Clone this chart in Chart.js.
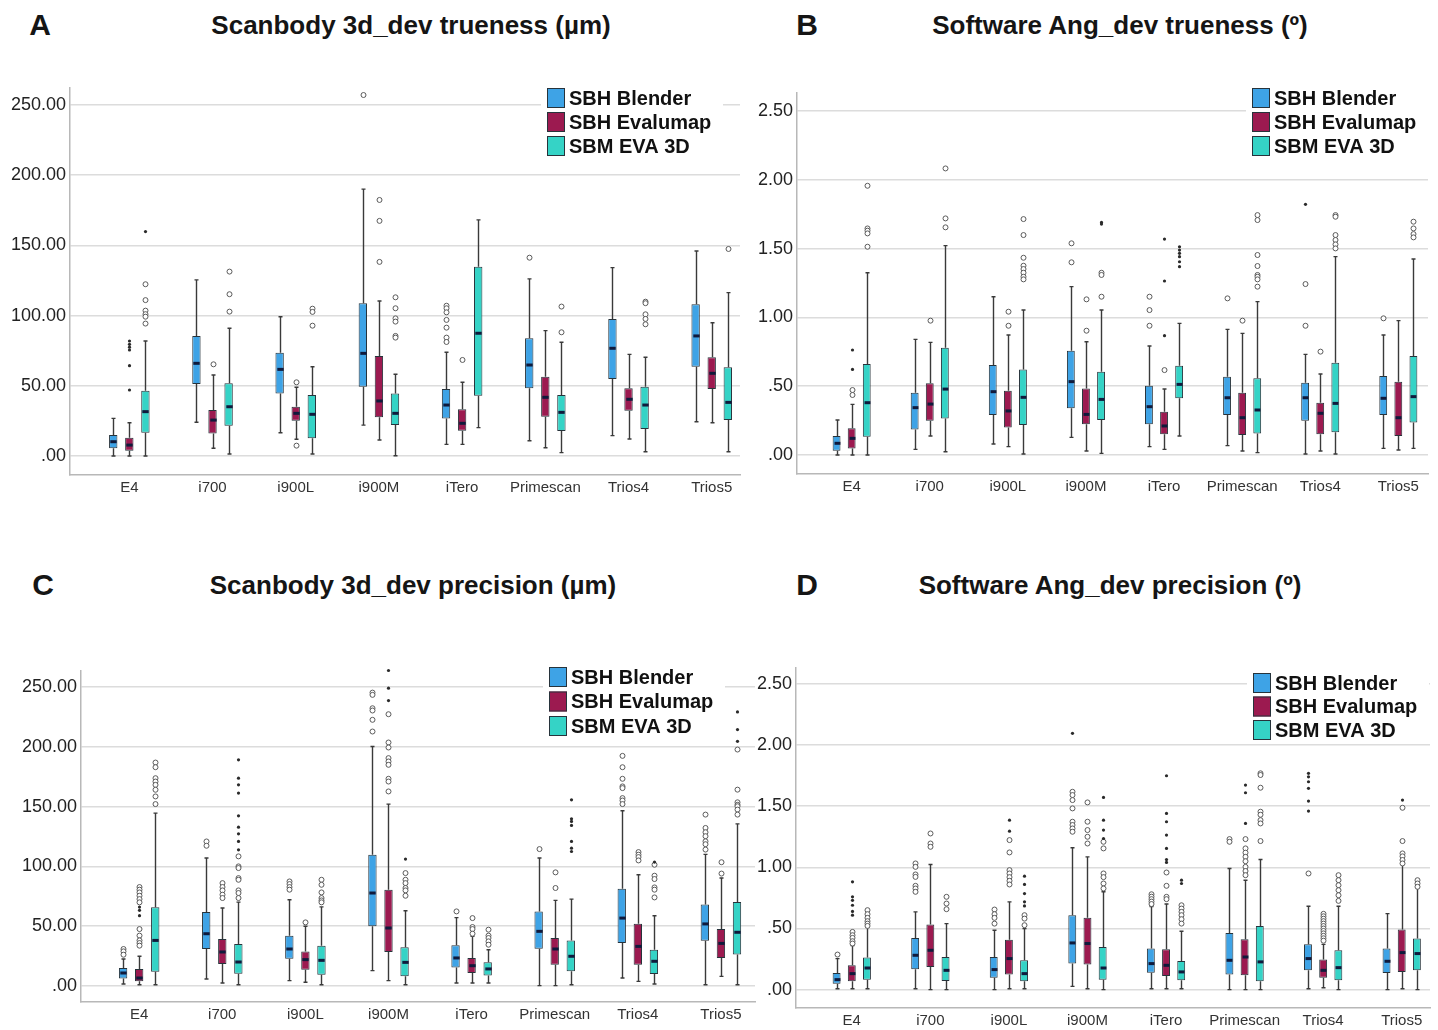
<!DOCTYPE html>
<html><head><meta charset="utf-8">
<script src="https://cdn.jsdelivr.net/npm/chart.js@4.4.0/dist/chart.umd.min.js"></script>
<style>
html,body{margin:0;padding:0;background:#fff;width:1438px;height:1030px;overflow:hidden;font-family:"Liberation Sans",Arial,sans-serif;}
canvas{position:absolute;}
.lbl{position:absolute;font-weight:bold;color:#151515;transform:translate(-50%,-50%);white-space:nowrap;}
.ttl{font-size:26px;}
.let{font-size:30px;}
</style></head><body>
<div class="lbl let" style="left:40px;top:25px">A</div>
<div class="lbl ttl" style="left:411px;top:25px">Scanbody 3d_dev trueness (µm)</div>
<div class="lbl let" style="left:807px;top:25px">B</div>
<div class="lbl ttl" style="left:1120px;top:25px">Software Ang_dev trueness (º)</div>
<div class="lbl let" style="left:43px;top:585px">C</div>
<div class="lbl ttl" style="left:413px;top:585px">Scanbody 3d_dev precision (µm)</div>
<div class="lbl let" style="left:807px;top:585px">D</div>
<div class="lbl ttl" style="left:1110px;top:585px">Software Ang_dev precision (º)</div>

<canvas id="cA" width="750" height="430" style="left:0;top:80px"></canvas>
<canvas id="cB" width="713" height="430" style="left:725px;top:80px"></canvas>
<canvas id="cC" width="765" height="380" style="left:0;top:650px"></canvas>
<canvas id="cD" width="713" height="380" style="left:725px;top:650px"></canvas>

<script>
const categories = ['E4','i700','i900L','i900M','iTero','Primescan','Trios4','Trios5'];
const seriesNames = ['SBH Blender','SBH Evalumap','SBM EVA 3D'];
const umTicks = [0,50,100,150,200,250];
const degTicks = [0,0.5,1,1.5,2,2.5];

// each row: [min, q1, median, q3, max]
// ---- Panel A: Scanbody 3d_dev trueness
const aBlender = [[0,5.5,10.2,15,26.8],[24,51.3,66,85.5,125.4],[16.6,44.6,61.7,73.6,99.2],[22,49.4,73.1,108.8,190],[8.3,26.8,36.3,47.7,73.9],[10.9,48.2,64.8,83.8,126.1],[14.5,54.8,76.7,97.6,134.1],[24.4,63.6,85.5,108,146]];
const aBlenderOut = [[],[],[],[257],[107,105.2,102.3,96.9,91.4,84.3,81.2],[141.2],[],[]];
const aBlenderExt = [[],[],[],[],[],[],[],[]];
const aEvalumap = [[0,3.8,7.8,13,23.7],[5.5,16.1,25.6,32.8,57.7],[11.9,25.1,30.4,35.1,49],[11.4,27.6,39.2,71.2,110.4],[8.3,18,23.3,33.3,52.5],[5.9,28,41.8,56.5,89.3],[12.1,32.3,40.4,48.2,72.4],[23.7,47.7,58.9,70.3,94.9]];
const aEvalumapOut = [[],[65.3],[52.5,7.4],[182.3,167.4,138.2],[68.4],[],[],[]];
const aEvalumapExt = [[81.9,79.5,77.5,75.5,64.3,47],[],[],[],[],[],[],[]];
const aEva = [[0,16.6,31.6,46.5,81.9],[1.4,21.6,35.1,51.8,91],[1.4,12.6,29.7,43.4,63.6],[0.2,22.1,30.4,44.6,58.2],[20.2,42.9,87.4,134.8,168.1],[2.4,17.8,31.1,43.4,81],[3.1,19.2,36.3,49.4,70.3],[3.1,25.6,38.2,63.2,116.3]];
const aEvaOut = [[122.3,111,103.5,101,99.2,94.3],[131.3,115.2,102.8],[104.9,102.6,92.8],[113,105.2,98,95.7,85.5,84.3],[],[106.4,88.1],[109.9,108.8,100.9,97.6,93.8],[147.4]];
const aEvaExt = [[159.8],[],[],[],[],[],[],[]];

// ---- Panel B: Software Ang_dev trueness
const bBlender = [[0,0.031,0.085,0.138,0.254],[0.041,0.186,0.344,0.453,0.84],[0.08,0.291,0.46,0.654,1.15],[0.128,0.339,0.533,0.758,1.223],[0.061,0.223,0.351,0.504,0.792],[0.068,0.291,0.416,0.569,0.913],[0.007,0.249,0.416,0.525,0.731],[0.048,0.291,0.412,0.574,0.872]];
const bBlenderOut = [[],[],[],[1.538,1.4],[1.15,1.053,0.939],[1.138],[1.242,0.939],[0.993]];
const bBlenderExt = [[],[],[],[],[],[],[1.821],[]];
const bEvalumap = [[0,0.048,0.121,0.194,0.368],[0.138,0.249,0.37,0.521,0.818],[0.061,0.199,0.32,0.467,0.872],[0.029,0.223,0.295,0.484,0.823],[0.041,0.15,0.211,0.315,0.479],[0.029,0.145,0.271,0.453,0.884],[0.029,0.15,0.303,0.38,0.588],[0.036,0.138,0.271,0.533,0.976]];
const bEvalumapOut = [[0.472,0.436],[0.976],[1.041,0.939],[1.131,0.903],[0.617],[0.976],[0.751],[]];
const bEvalumapExt = [[0.763,0.622],[],[],[],[1.569,1.264,0.867],[],[],[]];
const bEva = [[0,0.133,0.38,0.661,1.324],[0.024,0.266,0.479,0.78,1.521],[0.007,0.218,0.419,0.622,1.053],[0.012,0.254,0.404,0.605,1.053],[0.138,0.412,0.513,0.649,0.956],[0.017,0.157,0.327,0.557,1.114],[0.007,0.165,0.375,0.671,1.441],[0.048,0.237,0.424,0.719,1.424]];
const bEvaOut = [[1.956,1.646,1.63,1.61,1.513],[2.082,1.719,1.654],[1.714,1.598,1.433,1.375,1.351,1.324,1.295,1.276],[1.324,1.308,1.15],[],[1.743,1.707,1.453,1.373,1.308,1.295,1.276,1.223],[1.743,1.731,1.598,1.562,1.53,1.501],[1.695,1.646,1.605,1.581]];
const bEvaExt = [[],[],[],[1.69,1.678],[1.513,1.489,1.465,1.441,1.404,1.368],[],[],[2.155]];

// ---- Panel C: Scanbody 3d_dev precision
const cBlender = [[1.4,5.9,10.6,14.8,22.3],[5.6,30.7,43.5,61.7,106.9],[4.2,22.6,30.7,41.9,72],[12.6,49.7,77.6,109.7,200.3],[2.2,15.3,23.2,33.8,57],[0,31,45.5,62.2,106.9],[6.4,35.7,56.6,81.2,146.5],[0.8,37.7,51.7,67.9,110]];
const cBlenderOut = [[30.7,28.7,25.9],[120.8,117.2],[87.3,85.1,82.6,80.4],[245.5,243.6,232.4,230.5,222.7,212.9],[62.2],[114.4],[192.5,183,173.3,166.9,165.5,157.1,155.1,152.1],[143.3,132.1,128.5,125.2,120.9,118.5,114]];
const cBlenderExt = [[],[],[],[],[],[],[],[]];
const cEvalumap = [[0.8,3.6,6.4,14,24.6],[2.2,18.1,28.2,39.1,65],[2.8,13.4,21.8,28.7,49.7],[4.2,28.2,48.3,80.4,152.1],[2.2,10.6,16.7,23.2,41.3],[0,17.6,30.7,39.9,71.4],[3.6,17.6,32.9,51.9,92.9],[7.8,23.2,35.4,47.5,90.2]];
const cEvalumapOut = [[82.6,80.4,78.1,75.3,72.5,69.8,47.4,41.9,37.9,35.7,33.5],[85.9,82.6,79.8,76.2,73.4],[53],[227.4,203.7,199.5,190.6,187.8,185,173.3,171,162.7],[56.6,49.1,47.4,43.5],[94.9,81.8],[111.9,109.7,107.7,104.9],[103.4,93.9]];
const cEvalumapExt = [[65.8,63.1,58.6],[],[],[264,249.2,238.8],[],[],[],[]];
const cEva = [[0.8,11.7,37.9,65.6,144.5],[0.8,10,19.8,34.9,70],[0.8,9.2,21.2,33.5,66],[0.8,7.8,19.5,32.1,62.8],[2.2,8.4,14,19.5,30.1],[0.8,12,24.6,37.9,72.5],[1.4,9.8,20.4,30.1,58.6],[0.8,26,44.7,70.1,135.5]];
const cEvaOut = [[186.9,183,173.8,171,168.2,164.1,158.5,152.1],[108.3,99.9,98.5,90.1,88.7,79.8,77.6,73.4],[88.7,84.5,78.1,73.4,71.4,69.8],[94.3,88.7,85.9,81.8,79.8,75.3],[46.9,41.9,39.9,37.1,34.3],[],[101.3,92.1,89.3,82.3,80.4,73.9],[197.8,164.2,153.6,151.5,150.3,147.5,143.3]];
const cEvaExt = [[],[189.2,173.8,168.2,161.3,142.3,132.8,127.2,120.8,113.8],[],[106],[],[155.7,139.8,137.6,134.2,120.8,115.2,112.4],[103.5],[229.3,214.5,204.7]];

// ---- Panel D: Software Ang_dev precision
const dBlender = [[0.008,0.049,0.082,0.136,0.254],[0.008,0.166,0.281,0.423,0.636],[0,0.098,0.164,0.267,0.486],[0.027,0.213,0.382,0.609,1.16],[0.008,0.139,0.213,0.336,0.68],[0,0.123,0.24,0.464,0.991],[0.008,0.158,0.254,0.371,0.682],[0,0.136,0.232,0.336,0.622]];
const dBlenderOut = [[0.287],[1.032,1.004,0.942,0.922,0.849,0.827,0.8],[0.655,0.617,0.587,0.54],[1.618,1.591,1.55,1.482,1.373,1.346,1.318,1.291],[0.78,0.76,0.74,0.72,0.7],[1.231,1.209],[0.95],[]];
const dBlenderExt = [[],[],[],[2.096],[],[],[1.769,1.74,1.7,1.646,1.542,1.46],[]];
const dEvalumap = [[0.008,0.068,0.131,0.199,0.36],[0,0.186,0.322,0.532,1.023],[0.008,0.123,0.254,0.409,0.718],[0.008,0.205,0.377,0.587,1.086],[0.008,0.112,0.199,0.33,0.7],[0,0.117,0.267,0.412,0.895],[0.016,0.098,0.158,0.246,0.37],[0.008,0.145,0.303,0.491,1.053]];
const dEvalumapOut = [[0.472,0.445,0.423,0.396,0.377],[1.277,1.195,1.168],[1.223,1.122,0.977,0.95,0.92,0.89,0.86],[1.531,1.373,1.305,1.25,1.195],[0.958,0.849,0.759,0.74],[1.231,1.155,1.12,1.086,1.05,1.004,0.97,0.936],[0.62,0.6,0.58,0.56,0.54,0.52,0.5,0.48,0.46,0.44,0.42,0.4],[1.487,1.215,1.114,1.09,1.06,1.032]];
const dEvalumapExt = [[0.882,0.759,0.73,0.69,0.64,0.609],[],[1.386,1.296],[],[1.749,1.441,1.373,1.264,1.155,1.064,1.04],[1.673,1.61,1.359],[],[1.55]];
const dEva = [[0.008,0.082,0.177,0.262,0.513],[0,0.071,0.158,0.267,0.54],[0.008,0.068,0.131,0.24,0.499],[0,0.082,0.177,0.349,0.8],[0.008,0.076,0.145,0.235,0.478],[0,0.068,0.227,0.521,1.064],[0,0.076,0.18,0.322,0.682],[0,0.158,0.295,0.418,0.87]];
const dEvaOut = [[0.65,0.617,0.587,0.56,0.54,0.521],[0.759,0.704,0.658],[0.609,0.581,0.527],[1.209,1.155,0.95,0.92,0.868,0.827],[0.69,0.663,0.636,0.609,0.576,0.54],[1.769,1.755,1.651,1.455,1.43,1.386,1.359,1.215],[0.936,0.895,0.854,0.813,0.772,0.726],[0.895,0.868,0.841]];
const dEvaExt = [[],[],[0.928,0.86,0.786,0.718,0.685],[1.572,1.386,1.305,1.236],[0.895,0.868],[],[],[]];

const seriesColors = ['#3ea3e6','#9c1a50','#35d3c6'];
const edgeColor = '#27333b';

const boxPlugin = {
  id: 'boxplot',
  beforeDatasetsDraw(chart) {
    const ctx = chart.ctx, y = chart.scales.y;
    ctx.save();
    ctx.strokeStyle = '#3a3a3a';
    ctx.lineWidth = 1.4;
    chart.data.datasets.forEach((ds, d) => {
      chart.getDatasetMeta(d).data.forEach((el, i) => {
        const s = ds.stats[i];
        const x = Math.round(el.x) + 0.5;
        const pMin = y.getPixelForValue(s[0]), pQ1 = y.getPixelForValue(s[1]);
        const pQ3 = y.getPixelForValue(s[3]), pMax = y.getPixelForValue(s[4]);
        ctx.beginPath();
        ctx.moveTo(x, pMax); ctx.lineTo(x, pQ3);
        ctx.moveTo(x, pQ1); ctx.lineTo(x, pMin);
        ctx.moveTo(x - 2, pMax); ctx.lineTo(x + 2, pMax);
        ctx.moveTo(x - 2, pMin); ctx.lineTo(x + 2, pMin);
        ctx.stroke();
      });
    });
    ctx.restore();
  },
  afterDatasetsDraw(chart) {
    const ctx = chart.ctx, y = chart.scales.y;
    ctx.save();
    chart.data.datasets.forEach((ds, d) => {
      chart.getDatasetMeta(d).data.forEach((el, i) => {
        const s = ds.stats[i];
        const x = Math.round(el.x) + 0.5;
        const w = el.width;
        const pMed = y.getPixelForValue(s[2]);
        ctx.strokeStyle = '#0f1a3c';
        ctx.lineWidth = 3;
        ctx.beginPath();
        ctx.moveTo(x - w / 2 + 1, pMed); ctx.lineTo(x + w / 2 - 1, pMed);
        ctx.stroke();
        ctx.lineWidth = 1;
        ctx.strokeStyle = '#5a5a5a';
        ds.out[i].forEach(v => {
          ctx.beginPath();
          ctx.arc(x, y.getPixelForValue(v), 2.5, 0, Math.PI * 2);
          ctx.fillStyle = '#fff';
          ctx.fill();
          ctx.stroke();
        });
        ctx.fillStyle = '#2a2a2a';
        ds.ext[i].forEach(v => {
          ctx.beginPath();
          ctx.arc(x, y.getPixelForValue(v), 1.6, 0, Math.PI * 2);
          ctx.fill();
        });
      });
    });
    ctx.restore();
  },
  afterDraw(chart, args, opts) {
    const L = opts.legend;
    if (!L) return;
    const ctx = chart.ctx;
    ctx.save();
    ctx.fillStyle = '#fff';
    ctx.fillRect(L.x - 6, L.y - 14, 182, L.gap * 3 + 4);
    ctx.font = 'bold 20px "Liberation Sans", Arial, sans-serif';
    ctx.textBaseline = 'middle';
    chart.data.datasets.forEach((ds, d) => {
      const cy = L.y + d * L.gap;
      ctx.fillStyle = ds.backgroundColor;
      ctx.fillRect(L.x, cy - 10, 18, 20);
      ctx.strokeStyle = edgeColor;
      ctx.lineWidth = 1;
      ctx.strokeRect(L.x + 0.5, cy - 9.5, 17, 19);
      ctx.fillStyle = '#111';
      ctx.fillText(ds.label, L.x + 22, cy + 1);
    });
    ctx.restore();
  }
};

function fmtTick(v) {
  const s = Number(v).toFixed(2);
  return s.startsWith('0') ? s.slice(1) : s;
}

function makeChart(id, stats, outs, exts, yTicks, cfg) {
  const datasets = seriesNames.map((name, s) => ({
    label: name,
    data: categories.map((c, i) => ({ x: i, y: [stats[s][i][1], stats[s][i][3]] })),
    stats: stats[s], out: outs[s], ext: exts[s],
    backgroundColor: seriesColors[s],
    borderColor: edgeColor,
    borderWidth: 1,
    borderSkipped: false,
    categoryPercentage: 0.58,
    barPercentage: 0.52
  }));
  new Chart(document.getElementById(id), {
    type: 'bar',
    data: { datasets },
    plugins: [boxPlugin],
    options: {
      responsive: false,
      animation: false,
      devicePixelRatio: 1,
      layout: { padding: cfg.pad },
      plugins: {
        legend: { display: false },
        tooltip: { enabled: false },
        boxplot: { legend: cfg.legend }
      },
      scales: {
        x: {
          type: 'linear',
          offset: false,
          min: cfg.xmin, max: cfg.xmax,
          afterBuildTicks: sc => { sc.ticks = categories.map((c, i) => ({ value: i })); },
          afterFit: sc => { sc.height = cfg.xh; sc.paddingLeft = 0; sc.paddingRight = 0; },
          ticks: {
            callback: v => categories[v],
            autoSkip: false, maxRotation: 0, minRotation: 0,
            font: { size: 15, family: '"Liberation Sans", Arial, sans-serif' },
            color: '#333', padding: 4
          },
          grid: { display: true, offset: false, color: 'rgba(0,0,0,0)', drawTicks: false },
          border: { display: true, color: '#b8b8b8', width: 1.5 }
        },
        y: {
          type: 'linear',
          min: cfg.ymin, max: cfg.ymax,
          afterBuildTicks: sc => { sc.ticks = yTicks.map(v => ({ value: v })); },
          afterFit: sc => { sc.width = cfg.yw; sc.paddingTop = 0; sc.paddingBottom = 0; },
          ticks: {
            callback: v => fmtTick(v),
            font: { size: 18, family: '"Liberation Sans", Arial, sans-serif' },
            color: '#222', padding: 4
          },
          grid: { color: '#dcdcdc', lineWidth: 1.5, drawTicks: false },
          border: { display: true, color: '#b8b8b8', width: 1.5 }
        }
      }
    }
  });
}

makeChart('cA', [aBlender, aEvalumap, aEva], [aBlenderOut, aEvalumapOut, aEvaOut], [aBlenderExt, aEvalumapExt, aEvaExt], umTicks,
  { pad: { top: 8, right: 10, left: 0, bottom: 0 }, yw: 70, xh: 35, xmin: -0.713, xmax: 7.34, ymin: -13.5, ymax: 262, legend: { x: 547, y: 18, gap: 24 } });
makeChart('cB', [bBlender, bEvalumap, bEva], [bBlenderOut, bEvalumapOut, bEvaOut], [bBlenderExt, bEvalumapExt, bEvaExt], degTicks,
  { pad: { top: 13, right: 10, left: 0, bottom: 0 }, yw: 72, xh: 36, xmin: -0.70, xmax: 7.38, ymin: -0.138, ymax: 2.63, legend: { x: 527, y: 18, gap: 24 } });
makeChart('cC', [cBlender, cEvalumap, cEva], [cBlenderOut, cEvalumapOut, cEvaOut], [cBlenderExt, cEvalumapExt, cEvaExt], umTicks,
  { pad: { top: 21, right: 10, left: 0, bottom: 0 }, yw: 81, xh: 28, xmin: -0.70, xmax: 7.41, ymin: -13.7, ymax: 263.6, legend: { x: 549, y: 27, gap: 24.5 } });
makeChart('cD', [dBlender, dEvalumap, dEva], [dBlenderOut, dEvalumapOut, dEvaOut], [dBlenderExt, dEvalumapExt, dEvaExt], degTicks,
  { pad: { top: 18, right: 8, left: 0, bottom: 0 }, yw: 71, xh: 22, xmin: -0.71, xmax: 7.36, ymin: -0.15, ymax: 2.63, legend: { x: 528, y: 33, gap: 23.5 } });
</script>
</body></html>
